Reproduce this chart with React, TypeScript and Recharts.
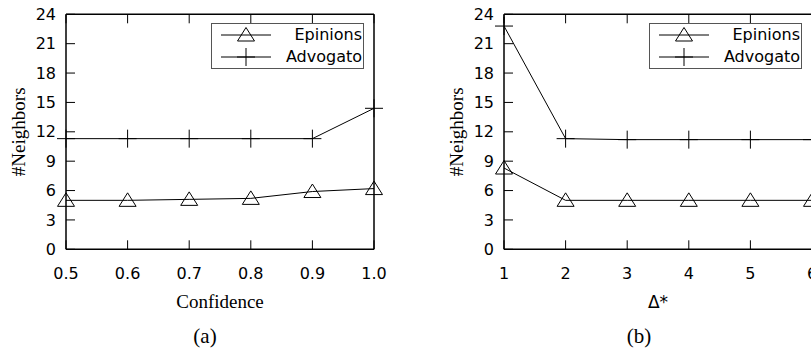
import React from 'react';
import { LineChart, Line, XAxis, YAxis, Legend } from 'recharts';

const confidenceCats = ['0.5', '0.6', '0.7', '0.8', '0.9', '1.0'];
const epinionsA = [5.0, 5.0, 5.1, 5.2, 5.9, 6.2];
const advogatoA = [11.3, 11.3, 11.3, 11.3, 11.3, 14.4];

const deltaCats = ['1', '2', '3', '4', '5', '6'];
const epinionsB = [8.3, 5.0, 5.0, 5.0, 5.0, 5.0];
const advogatoB = [22.8, 11.3, 11.2, 11.2, 11.2, 11.2];

const yTicks = [0, 3, 6, 9, 12, 15, 18, 21, 24];
const seriesNames = ['Epinions', 'Advogato'];

const dataA = confidenceCats.map((c, i) => ({ x: c, e: epinionsA[i], a: advogatoA[i] }));
const dataB = deltaCats.map((c, i) => ({ x: c, e: epinionsB[i], a: advogatoB[i] }));

const TICK_FONT = { fontFamily: 'DejaVu Sans', fontSize: 16, fill: '#000' };

const triPath = (cx: number, cy: number) =>
  `M${cx},${cy - 7.5}L${cx + 8.5},${cy + 6}L${cx - 8.5},${cy + 6}Z`;
const plusPath = (cx: number, cy: number) =>
  `M${cx - 9},${cy}L${cx + 9},${cy}M${cx},${cy - 9}L${cx},${cy + 9}`;

const TriangleDot = (p: any) => {
  const { cx, cy, index } = p;
  if (cx == null || cy == null) return <g key={`t${index}`} />;
  return <path key={`t${index}`} d={triPath(cx, cy)} fill="none" stroke="#000" strokeWidth={1} />;
};
const PlusDot = (p: any) => {
  const { cx, cy, index } = p;
  if (cx == null || cy == null) return <g key={`p${index}`} />;
  return <path key={`p${index}`} d={plusPath(cx, cy)} fill="none" stroke="#000" strokeWidth={1} />;
};

const LegendBox = () => (
  <div
    style={{
      width: 153,
      height: 46,
      border: '1px solid #555',
      boxSizing: 'border-box',
      position: 'relative',
      fontFamily: 'DejaVu Sans',
      fontSize: 16,
      color: '#000',
      background: 'transparent',
    }}
  >
    {seriesNames.map((name, i) => {
      const cyRow = 11 + 22.4 * i;
      return (
        <div key={name} style={{ position: 'absolute', left: 0, top: cyRow - 10, width: 151, height: 20 }}>
          <svg width={60} height={20} style={{ position: 'absolute', left: 0, top: 0, overflow: 'visible' }}>
            <line x1={9} y1={10} x2={59} y2={10} stroke="#000" strokeWidth={1} />
            <path d={i === 0 ? triPath(34, 10) : plusPath(34, 10)} fill="none" stroke="#000" strokeWidth={1} />
          </svg>
          <span style={{ position: 'absolute', right: 1, top: 0, lineHeight: '20px', whiteSpace: 'nowrap' }}>{name}</span>
        </div>
      );
    })}
  </div>
);

type PanelProps = {
  data: any[];
  width: number;
  marginLeft: number;
  marginRight: number;
  xTitle: string;
  xTitleFont: string;
  xTitleSize: number;
  caption: string;
  captionShift: number;
  legendLeft: number;
};

const Panel = (props: PanelProps) => {
  const { data, width, marginLeft, marginRight, xTitle, xTitleFont, xTitleSize, caption, captionShift, legendLeft } = props;

  const xLabel = (lp: any) => {
    const vb = lp.viewBox || {};
    const cx = vb.x + vb.width / 2;
    return (
      <g>
        <text x={cx} y={vb.y + 58.7} textAnchor="middle" fontFamily={xTitleFont} fontSize={xTitleSize} fill="#000">
          {xTitle}
        </text>
        <text x={cx + captionShift} y={vb.y + 93.5} textAnchor="middle" fontFamily="Liberation Serif" fontSize={21} fill="#000">
          {caption}
        </text>
      </g>
    );
  };

  const yLabel = (lp: any) => {
    const vb = lp.viewBox || {};
    const bx = vb.x + vb.width - 40.5;
    const cy = vb.y + vb.height / 2;
    return (
      <text
        x={bx}
        y={cy}
        transform={`rotate(-90 ${bx} ${cy})`}
        textAnchor="middle"
        fontFamily="Liberation Serif"
        fontSize={19}
        fill="#000"
      >
        #Neighbors
      </text>
    );
  };

  return (
    <LineChart
      width={width}
      height={354}
      data={data}
      margin={{ top: 13.3, right: marginRight - 1, bottom: 103.7, left: marginLeft - 1 }}
    >
      <XAxis
        xAxisId="b"
        dataKey="x"
        orientation="bottom"
        height={1}
        interval={0}
        tickSize={-9}
        tickMargin={27.6}
        tick={TICK_FONT}
        tickLine={{ stroke: '#000', strokeWidth: 1 }}
        axisLine={{ stroke: '#000', strokeWidth: 1.5 }}
        label={{ content: xLabel }}
      />
      <XAxis
        xAxisId="t"
        dataKey="x"
        orientation="top"
        height={1}
        interval={0}
        tickSize={-9}
        tickFormatter={() => ''}
        tickLine={{ stroke: '#000', strokeWidth: 1 }}
        axisLine={{ stroke: '#000', strokeWidth: 1.5 }}
      />
      <YAxis
        yAxisId="l"
        orientation="left"
        width={1}
        type="number"
        domain={[0, 24]}
        ticks={yTicks}
        interval={0}
        tickSize={-9}
        tickMargin={19}
        tick={TICK_FONT}
        tickLine={{ stroke: '#000', strokeWidth: 1 }}
        axisLine={{ stroke: '#000', strokeWidth: 1.5 }}
        label={{ content: yLabel }}
      />
      <YAxis
        yAxisId="r"
        orientation="right"
        width={1}
        type="number"
        domain={[0, 24]}
        ticks={yTicks}
        interval={0}
        tickSize={-9}
        tickFormatter={() => ''}
        tickLine={{ stroke: '#000', strokeWidth: 1 }}
        axisLine={{ stroke: '#000', strokeWidth: 1.5 }}
      />
      <Legend
        layout="vertical"
        align="center"
        verticalAlign="middle"
        wrapperStyle={{ left: legendLeft, top: 22.7, width: 153, height: 46 }}
        content={() => <LegendBox />}
      />
      <Line
        xAxisId="b"
        yAxisId="l"
        dataKey="a"
        name={seriesNames[1]}
        type="linear"
        stroke="#000"
        strokeWidth={1}
        dot={PlusDot}
        activeDot={false}
        isAnimationActive={false}
      />
      <Line
        xAxisId="b"
        yAxisId="l"
        dataKey="e"
        name={seriesNames[0]}
        type="linear"
        stroke="#000"
        strokeWidth={1}
        dot={TriangleDot}
        activeDot={false}
        isAnimationActive={false}
      />
    </LineChart>
  );
};

export default function App() {
  return (
    <div
      style={{
        position: 'absolute',
        left: 0,
        top: 0,
        width: 811,
        height: 354,
        overflow: 'hidden',
        background: '#fff',
      }}
    >
      <div style={{ position: 'absolute', left: 0, top: 0 }}>
        <Panel
          data={dataA}
          width={410}
          marginLeft={66}
          marginRight={36}
          xTitle="Confidence"
          xTitleFont="Liberation Serif"
          xTitleSize={19}
          caption="(a)"
          captionShift={-15}
          legendLeft={211}
        />
      </div>
      <div style={{ position: 'absolute', left: 400, top: 0 }}>
        <Panel
          data={dataB}
          width={442}
          marginLeft={104}
          marginRight={30}
          xTitle="Δ*"
          xTitleFont="DejaVu Sans"
          xTitleSize={17}
          caption="(b)"
          captionShift={-19}
          legendLeft={249}
        />
      </div>
    </div>
  );
}
